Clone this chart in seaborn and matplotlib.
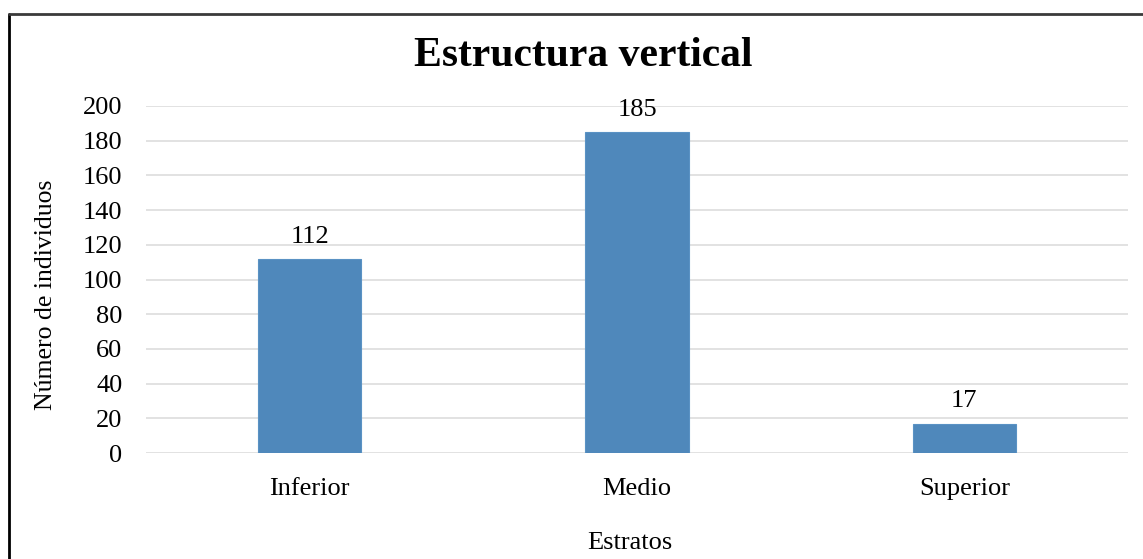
import matplotlib
matplotlib.use("Agg")
import matplotlib.pyplot as plt
import seaborn as sns
import pandas as pd
from matplotlib.lines import Line2D

categories = ["Inferior", "Medio", "Superior"]
values = [112, 185, 17]
yticks = [0, 20, 40, 60, 80, 100, 120, 140, 160, 180, 200]

title = "Estructura vertical"
xlabel = "Estratos"
ylabel = "Número de individuos"

sns.set_theme(style="whitegrid")
plt.rcParams["font.family"] = ["Liberation Serif", "DejaVu Serif"]

W, H = 1143, 559
fig = plt.figure(figsize=(W / 100, H / 100), dpi=100)
fig.patch.set_facecolor("white")
ax = fig.add_axes([146 / W, 1 - 453 / H, (1128 - 146) / W, (453 - 106) / H])

df = pd.DataFrame({"cat": categories, "val": values})
sns.barplot(data=df, x="cat", y="val", ax=ax, color="#4F88BB", width=0.315,
            saturation=1, edgecolor="#5A92C4", linewidth=0.8)

ax.set_xlim(-0.5, 2.5)
ax.set_ylim(0, 200)
ax.set_yticks(yticks)
ax.grid(axis="y", color="#DDDDDD", linewidth=1.2)
ax.grid(axis="x", visible=False)
ax.set_axisbelow(True)
for s in ax.spines.values():
    s.set_visible(False)
ax.tick_params(axis="both", length=0, labelsize=19, colors="#000000")
ax.tick_params(axis="y", pad=17)
ax.tick_params(axis="x", pad=18)
ax.set_xlabel("")
ax.set_ylabel("")

for i, v in enumerate(values):
    ax.annotate(str(v), (i, v), xytext=(0, 8), textcoords="offset points",
                ha="center", va="bottom", fontsize=19, color="#000000")

fig.text(583 / W, 1 - 56 / H, title, ha="center", va="center",
         fontsize=30, fontweight="bold", color="#000000")
fig.text(46 / W, 1 - 295 / H, ylabel, ha="center", va="center",
         rotation=90, fontsize=18.5, color="#000000")
fig.text(630 / W, 1 - 543 / H, xlabel, ha="center", va="center",
         fontsize=19, color="#000000")

# outer border (left and top edges visible)
fig.add_artist(Line2D([9 / W, 9 / W], [-0.01, 1 - 14 / H], transform=fig.transFigure,
                      color="#000000", linewidth=2))
fig.add_artist(Line2D([9 / W, 1.01], [1 - 14 / H, 1 - 14 / H], transform=fig.transFigure,
                      color="#3a3a3a", linewidth=2))

fig.savefig("out.png", dpi=100, facecolor="white")
